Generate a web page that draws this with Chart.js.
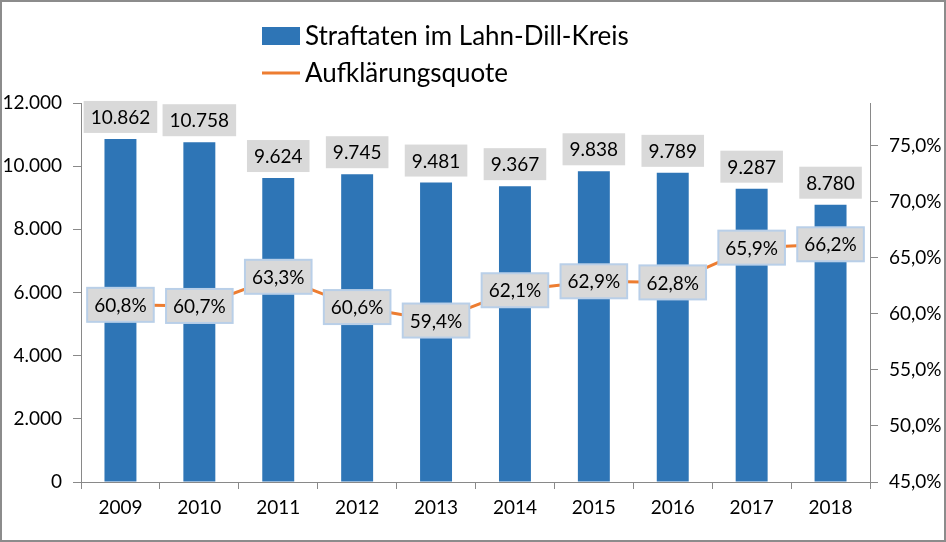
<!DOCTYPE html>
<html>
<head>
<meta charset="utf-8">
<script src="https://cdn.jsdelivr.net/npm/chart.js@4.4.1/dist/chart.umd.min.js"></script>
<style>
html, body { margin: 0; padding: 0; background: #fff; }
#wrap { width: 946px; height: 542px; }
</style>
</head>
<body>
<div id="wrap"><canvas id="myChart" width="946" height="542"></canvas></div>
<script>
'use strict';

let years = ['2009', '2010', '2011', '2012', '2013', '2014', '2015', '2016', '2017', '2018'];
let crimeCount = [10862, 10758, 9624, 9745, 9481, 9367, 9838, 9789, 9287, 8780];
let clearRate = [60.8, 60.7, 63.3, 60.6, 59.4, 62.1, 62.9, 62.8, 65.9, 66.2];
let leftTicks = [0, 2000, 4000, 6000, 8000, 10000, 12000];
let rightTicks = [45, 50, 55, 60, 65, 70, 75];
let barName = 'Straftaten im Lahn-Dill-Kreis';
let lineName = 'Aufklärungsquote';

let blue = '#2E75B6';
let orange = '#ED7D31';
let axisGray = '#898989';
let fontFam = 'Lato, "Open Sans", sans-serif';

function fmtNum(n) {
    return String(n).replace(/\B(?=(\d{3})+(?!\d))/g, '.');
}
function fmtPct(v) {
    return v.toFixed(1).replace('.', ',') + '%';
}

function boxLabel(ctx, text, cx, cy, border) {
    ctx.font = '19px ' + fontFam;
    let w = ctx.measureText(text).width + 14;
    let h = border ? 34 : 32;
    ctx.fillStyle = '#D9D9D9';
    ctx.fillRect(cx - w / 2, cy - h / 2, w, h);
    if (border) {
        ctx.strokeStyle = '#B9CFE8';
        ctx.lineWidth = 2;
        ctx.strokeRect(cx - w / 2, cy - h / 2, w, h);
    }
    ctx.fillStyle = '#000';
    ctx.textAlign = 'center';
    ctx.textBaseline = 'middle';
    ctx.fillText(text, cx, cy + 1);
}

let extras = {
    id: 'extras',
    beforeDraw(chart) {
        let ctx = chart.ctx;
        ctx.save();
        ctx.fillStyle = '#fff';
        ctx.fillRect(0, 0, chart.width, chart.height);
        ctx.restore();
    },
    afterDatasetsDraw(chart) {
        let ctx = chart.ctx;
        ctx.save();
        let barMeta = chart.getDatasetMeta(0);
        barMeta.data.forEach(function (bar, i) {
            boxLabel(ctx, fmtNum(crimeCount[i]), bar.x, bar.y - 22, false);
        });
        let lineMeta = chart.getDatasetMeta(1);
        lineMeta.data.forEach(function (pt, i) {
            boxLabel(ctx, fmtPct(clearRate[i]), pt.x, pt.y, true);
        });
        ctx.restore();
    },
    afterDraw(chart) {
        let ctx = chart.ctx;
        ctx.save();
        // legend, stacked like the original
        ctx.fillStyle = blue;
        ctx.fillRect(262, 27, 38, 18);
        ctx.strokeStyle = orange;
        ctx.lineWidth = 3;
        ctx.beginPath();
        ctx.moveTo(262, 73);
        ctx.lineTo(300, 73);
        ctx.stroke();
        ctx.fillStyle = '#000';
        ctx.font = '26px ' + fontFam;
        ctx.textAlign = 'left';
        ctx.textBaseline = 'middle';
        ctx.fillText(barName, 305, 37);
        ctx.fillText(lineName, 305, 74);
        // frame
        ctx.strokeStyle = '#8C8C8C';
        ctx.lineWidth = 2;
        ctx.strokeRect(1, 1, chart.width - 2, chart.height - 2);
        ctx.restore();
    }
};

let ctx = document.getElementById('myChart').getContext('2d');
let chart = new Chart(ctx, {
    type: 'bar',
    data: {
        labels: years,
        datasets: [{
            label: barName,
            data: crimeCount,
            backgroundColor: blue,
            yAxisID: 'y',
            order: 2,
            categoryPercentage: 1,
            barPercentage: 0.405
        }, {
            type: 'line',
            label: lineName,
            data: clearRate,
            borderColor: orange,
            borderWidth: 3,
            pointRadius: 0,
            yAxisID: 'y1',
            order: 1
        }]
    },
    options: {
        responsive: false,
        animation: false,
        devicePixelRatio: 1,
        layout: { padding: { top: 103, left: 0, right: 0, bottom: 0 } },
        plugins: {
            legend: { display: false },
            tooltip: { enabled: false }
        },
        scales: {
            x: {
                grid: { drawOnChartArea: false, offset: true, tickLength: 7, color: axisGray },
                border: { color: axisGray, width: 1 },
                ticks: { color: '#000', font: { family: fontFam, size: 19 }, padding: 7, maxRotation: 0 },
                afterFit(scale) { scale.height = 60; }
            },
            y: {
                position: 'left',
                min: 0,
                max: 12000,
                grid: { drawOnChartArea: false, tickLength: 8, color: axisGray },
                border: { color: axisGray, width: 1 },
                ticks: {
                    color: '#000',
                    font: { family: fontFam, size: 19 },
                    padding: 11,
                    callback: function (v) { return fmtNum(v); }
                },
                afterBuildTicks(scale) { scale.ticks = leftTicks.map(function (v) { return { value: v }; }); },
                afterFit(scale) { scale.width = 81; }
            },
            y1: {
                position: 'right',
                min: 45,
                max: 78.8,
                grid: { drawOnChartArea: false, tickLength: 8, color: axisGray },
                border: { color: axisGray, width: 1 },
                ticks: {
                    color: '#000',
                    font: { family: fontFam, size: 19 },
                    padding: 11,
                    callback: function (v) { return fmtPct(v); }
                },
                afterBuildTicks(scale) { scale.ticks = rightTicks.map(function (v) { return { value: v }; }); },
                afterFit(scale) { scale.width = 76; }
            }
        }
    },
    plugins: [extras]
});
</script>
</body>
</html>
